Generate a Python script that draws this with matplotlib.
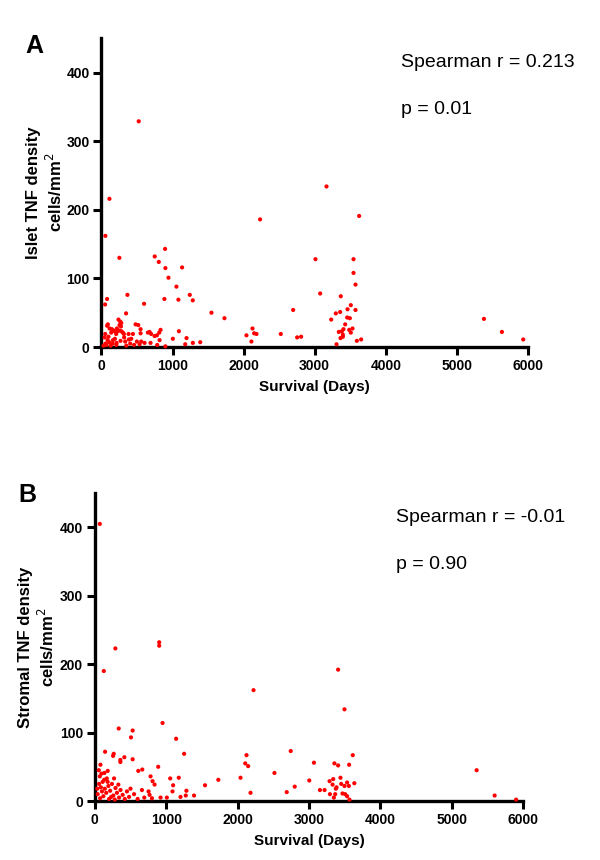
import matplotlib
matplotlib.use("Agg")
import matplotlib.pyplot as plt

plt.rcParams['font.family'] = ['Liberation Sans', 'DejaVu Sans']

# Panel A: islet TNF density vs survival
islet_days = [525, 113, 56, 253, 3166, 2232, 896, 750, 807, 900, 1135, 943, 1055, 1243, 1285,
              1083, 886, 600, 366, 347, 80, 52, 1548, 1731, 2697, 3011, 3077, 3625, 3546, 3546,
              3574, 3367, 3508, 3574, 3462, 3358, 3297, 3232, 3457, 3494, 3429, 3532, 3485, 3405,
              3382, 3339, 3508, 3396, 3396, 3363, 3653, 3593, 3307, 2809, 2753, 2523, 2125, 2110,
              2148, 2181, 2040, 5380, 5633, 5933,
              240, 265, 280, 255, 275, 91, 80, 115, 148, 170, 185, 218, 225, 253, 281, 302,
              54, 138, 208, 316, 382, 443, 481, 518, 551, 551, 654, 677, 700, 748, 781, 832,
              813, 1090, 1005, 1197, 1179, 1286, 1390, 87, 110, 162, 58, 157, 213, 269, 335,
              386, 405, 499, 537, 607, 691, 785, 818, 30, 45, 70, 100, 130, 190, 210, 320, 350,
              420, 460, 560, 900]
islet_density = [329, 216, 162, 130, 234, 186, 143, 132, 124, 115, 116, 101, 88, 76, 68,
                 69, 70, 63, 76, 49, 70, 62, 50, 42, 54, 128, 78, 191, 128, 108,
                 91, 74, 61, 54, 55, 51, 49, 40, 43, 42, 33, 27, 25, 26,
                 23, 22, 21, 18, 15, 13, 11, 9, 4, 15, 14, 19, 27, 8,
                 20, 19, 17, 41, 22, 11,
                 40, 37, 35, 32, 30, 33, 31, 27, 26, 24, 23, 27, 23, 24, 23, 21,
                 19, 21, 19, 19, 19, 19, 33, 32, 26, 20, 21, 22, 19, 16, 17, 25,
                 21, 23, 12, 13, 4, 6, 7, 10, 7, 10, 5, 5, 6, 9, 8,
                 11, 5, 8, 4, 6, 6, 3, 10, 2, 14, 3, 15, 2, 12, 3, 14, 2,
                 12, 3, 8, 1]

# Panel B: stromal TNF density vs survival
stromal_days = [70, 288, 126, 902, 902, 2223, 949, 3408, 3497, 335, 530, 507, 1139, 144, 265,
                256, 414, 358, 358, 530, 1251, 888, 79, 56, 93, 135, 181, 665, 609, 1056,
                1176, 1097, 1088, 1283, 1274, 1390, 1200, 781, 809, 837, 660, 753, 767, 693,
                800, 921, 1009, 1544, 1730, 2041, 2125, 2107, 2148, 2181, 2516, 2688, 2744,
                2800, 3613, 3069, 3356, 3408, 3562, 3004, 3288, 3339, 3441, 3330, 3451, 3534,
                3635, 3386, 3376, 3497, 3558, 3153, 3218, 3293, 3367, 3469, 3506, 3534, 3348,
                3567, 5348, 5600, 5901,
                70, 131, 168, 270, 60, 85, 110, 140, 160, 190, 215, 240, 260, 290, 310, 340,
                360, 390, 420, 450, 480, 500, 550, 600, 40, 75, 120, 200, 280, 35, 100, 180,
                230, 330]
stromal_density = [405, 223, 190, 232, 227, 162, 114, 192, 134, 106, 103, 93, 91, 72, 69,
                   66, 64, 60, 57, 61, 69, 50, 53, 45, 40, 41, 44, 46, 44, 33,
                   34, 23, 14, 15, 8, 8, 6, 36, 29, 24, 16, 14, 9, 5,
                   4, 5, 5, 23, 31, 34, 67, 55, 51, 12, 41, 13, 73,
                   21, 67, 56, 55, 52, 53, 30, 29, 32, 34, 24, 25, 27,
                   26, 20, 18, 22, 22, 16, 16, 10, 10, 11, 10, 7, 5,
                   2, 45, 8, 2,
                   36, 31, 33, 33, 25, 20, 28, 18, 12, 22, 15, 25, 8, 19, 12, 5,
                   16, 9, 3, 14, 6, 18, 10, 3, 10, 4, 7, 3, 2, 18, 14, 28,
                   6, 24]

x_ticks = [0, 1000, 2000, 3000, 4000, 5000, 6000]
y_ticks = [0, 100, 200, 300, 400]

fig = plt.figure(figsize=(6, 8.6), dpi=100)
ax_a = fig.add_axes([0.169, 0.5965, 0.711, 0.359])
ax_b = fig.add_axes([0.158, 0.0686, 0.714, 0.358])


def style_axes(ax, days, density, ylabel_lines, label_x, r_text, p_text):
    ax.scatter(days, density, s=9, color='#ff0000', edgecolors='none', zorder=3, clip_on=False)
    ax.set_xlim(0, 6000)
    ax.set_ylim(0, 450)
    ax.set_xticks(x_ticks)
    ax.set_yticks(y_ticks)
    for side in ['top', 'right']:
        ax.spines[side].set_visible(False)
    for side in ['left', 'bottom']:
        ax.spines[side].set_linewidth(2.4)
    ax.tick_params(width=2.2, length=6, labelsize=10, pad=2.5)
    for lab in ax.get_xticklabels() + ax.get_yticklabels():
        lab.set_fontweight('bold')
    ax.set_xlabel('Survival (Days)', fontsize=11, fontweight='bold', labelpad=5)
    # two-line y label placed in figure coordinates
    pos = ax.get_position()
    fig.text(label_x, pos.y0 + pos.height * 0.5, ylabel_lines, rotation=90,
             ha='center', va='center', multialignment='center',
             fontsize=12, fontweight='bold', linespacing=1.25)
    ax.text(4220, 415, r_text, fontsize=14, va='center', ha='left')
    ax.text(4220, 346, p_text, fontsize=14, va='center', ha='left')


style_axes(ax_a, islet_days, islet_density, 'Islet TNF density\ncells/mm$^2$', 0.076,
           'Spearman r = 0.213', 'p = 0.01')
style_axes(ax_b, stromal_days, stromal_density, 'Stromal TNF density\ncells/mm$^2$', 0.063,
           'Spearman r = -0.01', 'p = 0.90')

fig.text(0.058, 0.946, 'A', fontsize=18, fontweight='bold', ha='center', va='center')
fig.text(0.045, 0.424, 'B', fontsize=18, fontweight='bold', ha='center', va='center')

fig.savefig('out.png', dpi=100)
